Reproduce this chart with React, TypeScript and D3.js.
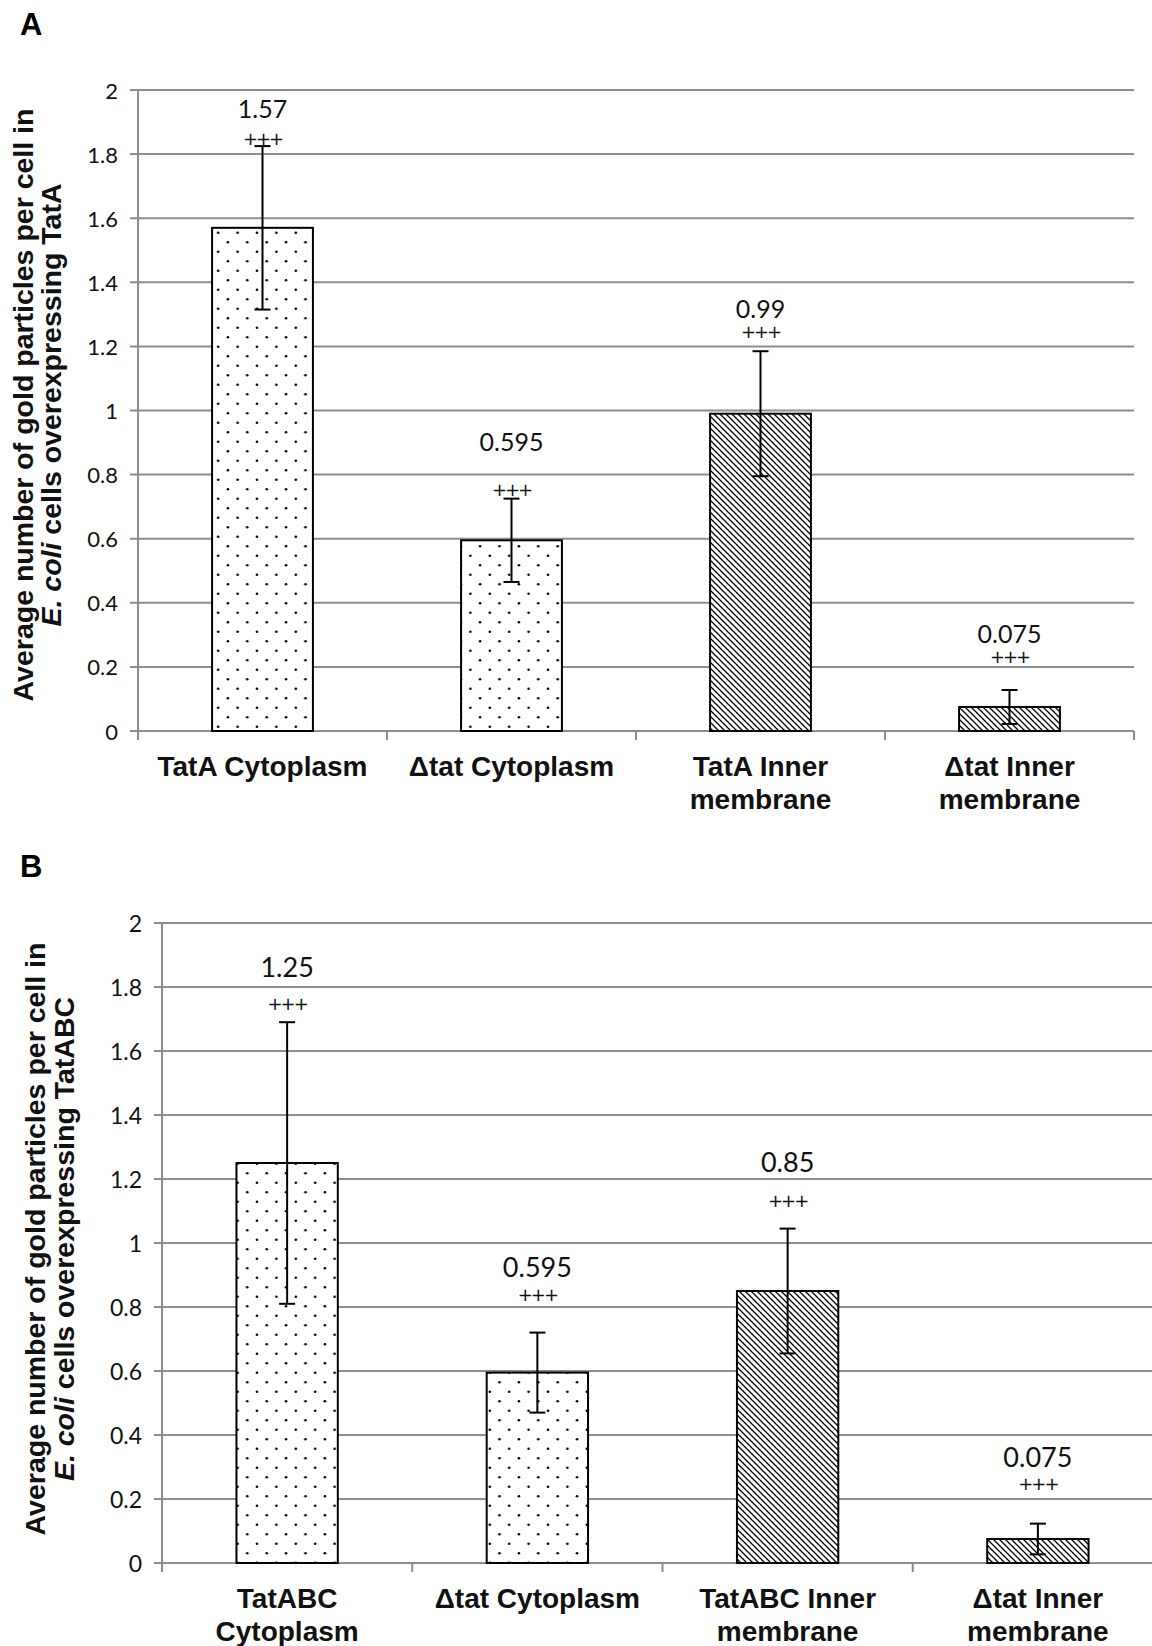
import React from "react";
import * as d3 from "d3";

// ---------- DATA ----------
const categoriesA: string[][] = [["TatA Cytoplasm"], ["Δtat Cytoplasm"], ["TatA Inner", "membrane"], ["Δtat Inner", "membrane"]];
const valuesA = [1.57, 0.595, 0.99, 0.075];
const errorsA = [0.255, 0.13, 0.195, 0.053];
const valueLabelsA = ["1.57", "0.595", "0.99", "0.075"];
const valueLabelPosA = [1.944, 0.905, 1.32, 0.306];
const plusPosA = [1.85, 0.755, 1.248, 0.231];

const categoriesB: string[][] = [["TatABC", "Cytoplasm"], ["Δtat Cytoplasm"], ["TatABC Inner", "membrane"], ["Δtat Inner", "membrane"]];
const valuesB = [1.25, 0.595, 0.85, 0.075];
const errorsB = [0.44, 0.125, 0.195, 0.048];
const valueLabelsB = ["1.25", "0.595", "0.85", "0.075"];
const valueLabelPosB = [1.863, 0.928, 1.256, 0.332];
const plusPosB = [1.75, 0.839, 1.134, 0.25];

const fills = ["dots", "dots", "hatch", "hatch"];
const yTicks = [0, 0.2, 0.4, 0.6, 0.8, 1, 1.2, 1.4, 1.6, 1.8, 2];
const yTitleLine1 = "Average number of gold particles per cell in";
const yTitleSuffixA = " cells overexpressing TatA";
const yTitleSuffixB = " cells overexpressing TatABC";

const GRID = "#8e8e8e";

type PanelProps = {
  letter: string;
  letterY: number;
  top: number;
  bottom: number;
  left: number;
  right: number;
  categories: string[][];
  values: number[];
  errors: number[];
  valueLabels: string[];
  valueLabelPos: number[];
  plusPos: number[];
  titleSuffix: string;
  titleX1: number;
  titleX2: number;
  titleCenter: number;
  tickFont: number;
  valueFont: number;
};

function Panel(p: PanelProps) {
  const y = d3.scaleLinear().domain([0, 2]).range([p.bottom, p.top]);
  const x = d3
    .scaleBand<number>()
    .domain(p.categories.map((_, i) => i))
    .range([p.left, p.right])
    .paddingInner(0)
    .paddingOuter(0);
  const bw = x.bandwidth() * 0.405;
  const boundaries = d3.range(p.categories.length + 1).map((i) => p.left + i * x.step());
  return (
    <g>
      <text x={20} y={p.letterY} fontFamily="Liberation Sans, Arial, sans-serif" fontWeight="bold" fontSize={31}>
        {p.letter}
      </text>
      {/* gridlines */}
      {yTicks.map((t) => (
        <g key={t}>
          <line x1={p.left - 8} x2={p.right} y1={y(t)} y2={y(t)} stroke={GRID} strokeWidth={2} />
          <text
            x={p.left - 20}
            y={y(t)}
            textAnchor="end"
            dominantBaseline="central"
            fontFamily="Lato, 'Open Sans', sans-serif"
            fontSize={p.tickFont}
            fill="#111"
          >
            {String(t)}
          </text>
        </g>
      ))}
      {/* y axis */}
      <line x1={p.left} x2={p.left} y1={p.top} y2={p.bottom + 9} stroke={GRID} strokeWidth={2} />
      {/* x ticks */}
      {boundaries.map((b, i) => (
        <line key={i} x1={b} x2={b} y1={p.bottom} y2={p.bottom + 9} stroke={GRID} strokeWidth={2} />
      ))}
      {/* bars */}
      {p.values.map((v, i) => {
        const cx = (x(i) as number) + x.bandwidth() / 2;
        return (
          <g key={i}>
            <rect
              x={cx - bw / 2}
              y={y(v)}
              width={bw}
              height={y(0) - y(v)}
              fill={`url(#${fills[i]})`}
              stroke="#000"
              strokeWidth={2}
            />
          </g>
        );
      })}
      {/* error bars */}
      {p.values.map((v, i) => {
        const cx = (x(i) as number) + x.bandwidth() / 2;
        const hi = y(v + p.errors[i]);
        const lo = y(v - p.errors[i]);
        return (
          <g key={i} stroke="#000" strokeWidth={2}>
            <line x1={cx} x2={cx} y1={hi} y2={lo} />
            <line x1={cx - 8} x2={cx + 8} y1={hi} y2={hi} />
            <line x1={cx - 8} x2={cx + 8} y1={lo} y2={lo} />
          </g>
        );
      })}
      {/* value labels */}
      {p.values.map((v, i) => {
        const cx = (x(i) as number) + x.bandwidth() / 2;
        return (
          <g key={i}>
            <text
              x={cx}
              y={y(p.valueLabelPos[i])}
              textAnchor="middle"
              dominantBaseline="central"
              fontFamily="Lato, 'Open Sans', sans-serif"
              fontSize={p.valueFont}
              fill="#111"
            >
              {p.valueLabels[i]}
            </text>
            <text
              x={cx}
              y={y(p.plusPos[i])}
              textAnchor="middle"
              dominantBaseline="central"
              fontFamily="'DejaVu Sans', sans-serif"
              fontSize={18}
              fill="#111"
              letterSpacing={-2}
            >
              +++
            </text>
          </g>
        );
      })}
      {/* category labels */}
      {p.categories.map((lines, i) => {
        const cx = (x(i) as number) + x.bandwidth() / 2;
        return (
          <text
            key={i}
            x={cx}
            y={p.bottom + 45}
            textAnchor="middle"
            fontFamily="Liberation Sans, Arial, sans-serif"
            fontWeight="bold"
            fontSize={28}
            fill="#111"
          >
            {lines.map((l, j) => (
              <tspan key={j} x={cx} dy={j === 0 ? 0 : 33}>
                {l}
              </tspan>
            ))}
          </text>
        );
      })}
      {/* y title */}
      <g fontFamily="Liberation Sans, Arial, sans-serif" fontWeight="bold" fontSize={28.5} fill="#111">
        <text
          transform={`translate(${p.titleX1},${p.titleCenter}) rotate(-90)`}
          textAnchor="middle"
          dominantBaseline="central"
        >
          {yTitleLine1}
        </text>
        <text
          transform={`translate(${p.titleX2},${p.titleCenter}) rotate(-90)`}
          textAnchor="middle"
          dominantBaseline="central"
        >
          <tspan fontStyle="italic">E. coli</tspan>
          <tspan>{p.titleSuffix}</tspan>
        </text>
      </g>
    </g>
  );
}

export default function App() {
  return (
    <svg
      width={1152}
      height={1646}
      viewBox="0 0 1152 1646"
      style={{ position: "absolute", left: 0, top: 0, display: "block", background: "#fff" }}
    >
      <defs>
        <pattern id="dots" patternUnits="userSpaceOnUse" width={19.4} height={19}>
          <rect width={19.4} height={19} fill="#fff" />
          <circle cx={4.8} cy={4.7} r={1.3} fill="#000" />
          <circle cx={14.5} cy={14.2} r={1.3} fill="#000" />
        </pattern>
        <pattern id="hatch" patternUnits="userSpaceOnUse" width={6} height={6}>
          <rect width={6} height={6} fill="#fff" />
          <path d="M-1,-1 L7,7 M-1,5 L1,7 M5,-1 L7,1" stroke="#000" strokeWidth={1.3} />
        </pattern>
      </defs>
      <rect width={1152} height={1646} fill="#fff" />
      <Panel
        letter="A"
        letterY={35}
        top={90}
        bottom={731}
        left={138}
        right={1134}
        categories={categoriesA}
        values={valuesA}
        errors={errorsA}
        valueLabels={valueLabelsA}
        valueLabelPos={valueLabelPosA}
        plusPos={plusPosA}
        titleSuffix={yTitleSuffixA}
        titleX1={23}
        titleX2={51}
        titleCenter={405}
        tickFont={22}
        valueFont={25}
      />
      <Panel
        letter="B"
        letterY={877}
        top={923}
        bottom={1563}
        left={162}
        right={1163}
        categories={categoriesB}
        values={valuesB}
        errors={errorsB}
        valueLabels={valueLabelsB}
        valueLabelPos={valueLabelPosB}
        plusPos={plusPosB}
        titleSuffix={yTitleSuffixB}
        titleX1={35}
        titleX2={64}
        titleCenter={1239}
        tickFont={23}
        valueFont={27}
      />
    </svg>
  );
}
